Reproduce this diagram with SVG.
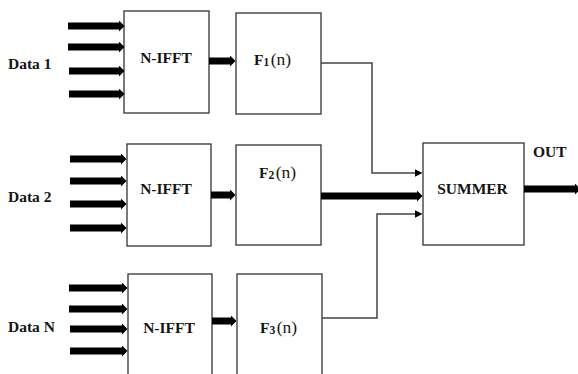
<svg xmlns="http://www.w3.org/2000/svg" width="578" height="374" viewBox="0 0 578 374">
<style>
.box{fill:#fff;stroke:#333;stroke-width:1.3}
.t{font-family:"Liberation Serif","Times New Roman",serif;font-weight:bold;font-size:15.5px;fill:#141414}
.fn{font-family:"Liberation Serif","Times New Roman",serif;font-weight:normal;font-size:17.5px;fill:#1a1410}
.sub{font-size:11.5px}
.thick{stroke:#000;stroke-width:7;fill:none}
.thin{stroke:#444;stroke-width:1.5;fill:none}
</style>
<defs>
<marker id="ah" markerUnits="userSpaceOnUse" viewBox="0 0 6 12" refX="0.5" refY="6" markerWidth="6" markerHeight="12" orient="auto"><path d="M0,0 L6,6 L0,12 z" fill="#000"/></marker>
<marker id="ah2" markerUnits="userSpaceOnUse" viewBox="0 0 8 8" refX="0.5" refY="4" markerWidth="8" markerHeight="8" orient="auto"><path d="M0,0 L8,4 L0,8 z" fill="#000"/></marker>
</defs>
<rect width="578" height="374" fill="#fff"/>

<g id="data1">
<text class="t" x="8" y="69">Data 1</text>
</g>
<g id="ifft1">
<rect class="box" x="124" y="11" width="85" height="102"/>
<text class="t" x="166" y="62.5" text-anchor="middle">N-IFFT</text>
</g>
<g id="f1">
<rect class="box" x="236" y="13" width="85" height="101"/>
<text class="t" x="254" y="64.5">F<tspan class="sub" dy="1">1</tspan><tspan class="fn" dx="1.5" dy="-1">(n)</tspan></text>
</g>

<g id="data2">
<text class="t" x="8" y="202">Data 2</text>
</g>
<g id="ifft2">
<rect class="box" x="127" y="144" width="84" height="102"/>
<text class="t" x="166" y="194" text-anchor="middle">N-IFFT</text>
</g>
<g id="f2">
<rect class="box" x="236" y="145" width="85" height="100"/>
<text class="t" x="259" y="178">F<tspan class="sub" dy="1">2</tspan><tspan class="fn" dx="1.5" dy="-1">(n)</tspan></text>
</g>

<g id="dataN">
<text class="t" x="8" y="332">Data N</text>
</g>
<g id="ifft3">
<rect class="box" x="128" y="274" width="84" height="110"/>
<text class="t" x="169" y="333" text-anchor="middle">N-IFFT</text>
</g>
<g id="f3">
<rect class="box" x="237" y="274" width="85" height="110"/>
<text class="t" x="260" y="333">F<tspan class="sub" dy="1">3</tspan><tspan class="fn" dx="1.5" dy="-1">(n)</tspan></text>
</g>

<g id="summer">
<rect class="box" x="423" y="143" width="101" height="102"/>
<text class="t" x="472.5" y="194" text-anchor="middle">SUMMER</text>
</g>
<g id="out">
<text class="t" x="533" y="157">OUT</text>
</g>

<g id="connectors">
<line class="thick" x1="68" y1="26" x2="119" y2="26" marker-end="url(#ah)"/>
<line class="thick" x1="68" y1="47" x2="119" y2="47" marker-end="url(#ah)"/>
<line class="thick" x1="69" y1="71" x2="119" y2="71" marker-end="url(#ah)"/>
<line class="thick" x1="69" y1="94" x2="119" y2="94" marker-end="url(#ah)"/>

<line class="thick" x1="70" y1="159" x2="121" y2="159" marker-end="url(#ah)"/>
<line class="thick" x1="70" y1="181" x2="121" y2="181" marker-end="url(#ah)"/>
<line class="thick" x1="70" y1="204" x2="121" y2="204" marker-end="url(#ah)"/>
<line class="thick" x1="70" y1="228" x2="121" y2="228" marker-end="url(#ah)"/>

<line class="thick" x1="69" y1="288" x2="122" y2="288" marker-end="url(#ah)"/>
<line class="thick" x1="69" y1="309" x2="122" y2="309" marker-end="url(#ah)"/>
<line class="thick" x1="70" y1="329" x2="122" y2="329" marker-end="url(#ah)"/>
<line class="thick" x1="70" y1="351" x2="122" y2="351" marker-end="url(#ah)"/>

<line class="thick" x1="209" y1="61" x2="230" y2="61" marker-end="url(#ah)"/>
<line class="thick" x1="211" y1="195" x2="230" y2="195" marker-end="url(#ah)"/>
<line class="thick" x1="212" y1="321" x2="231" y2="321" marker-end="url(#ah)"/>

<polyline class="thin" points="321,63 372,63 372,173 415,173" marker-end="url(#ah2)"/>
<line class="thick" x1="321" y1="196" x2="417" y2="196" marker-end="url(#ah)"/>
<polyline class="thin" points="322,318 377,318 377,214 415,214" marker-end="url(#ah2)"/>

<line class="thick" x1="524" y1="189" x2="575" y2="189" stroke-width="5.5" marker-end="url(#ah)"/>
</g>
</svg>
